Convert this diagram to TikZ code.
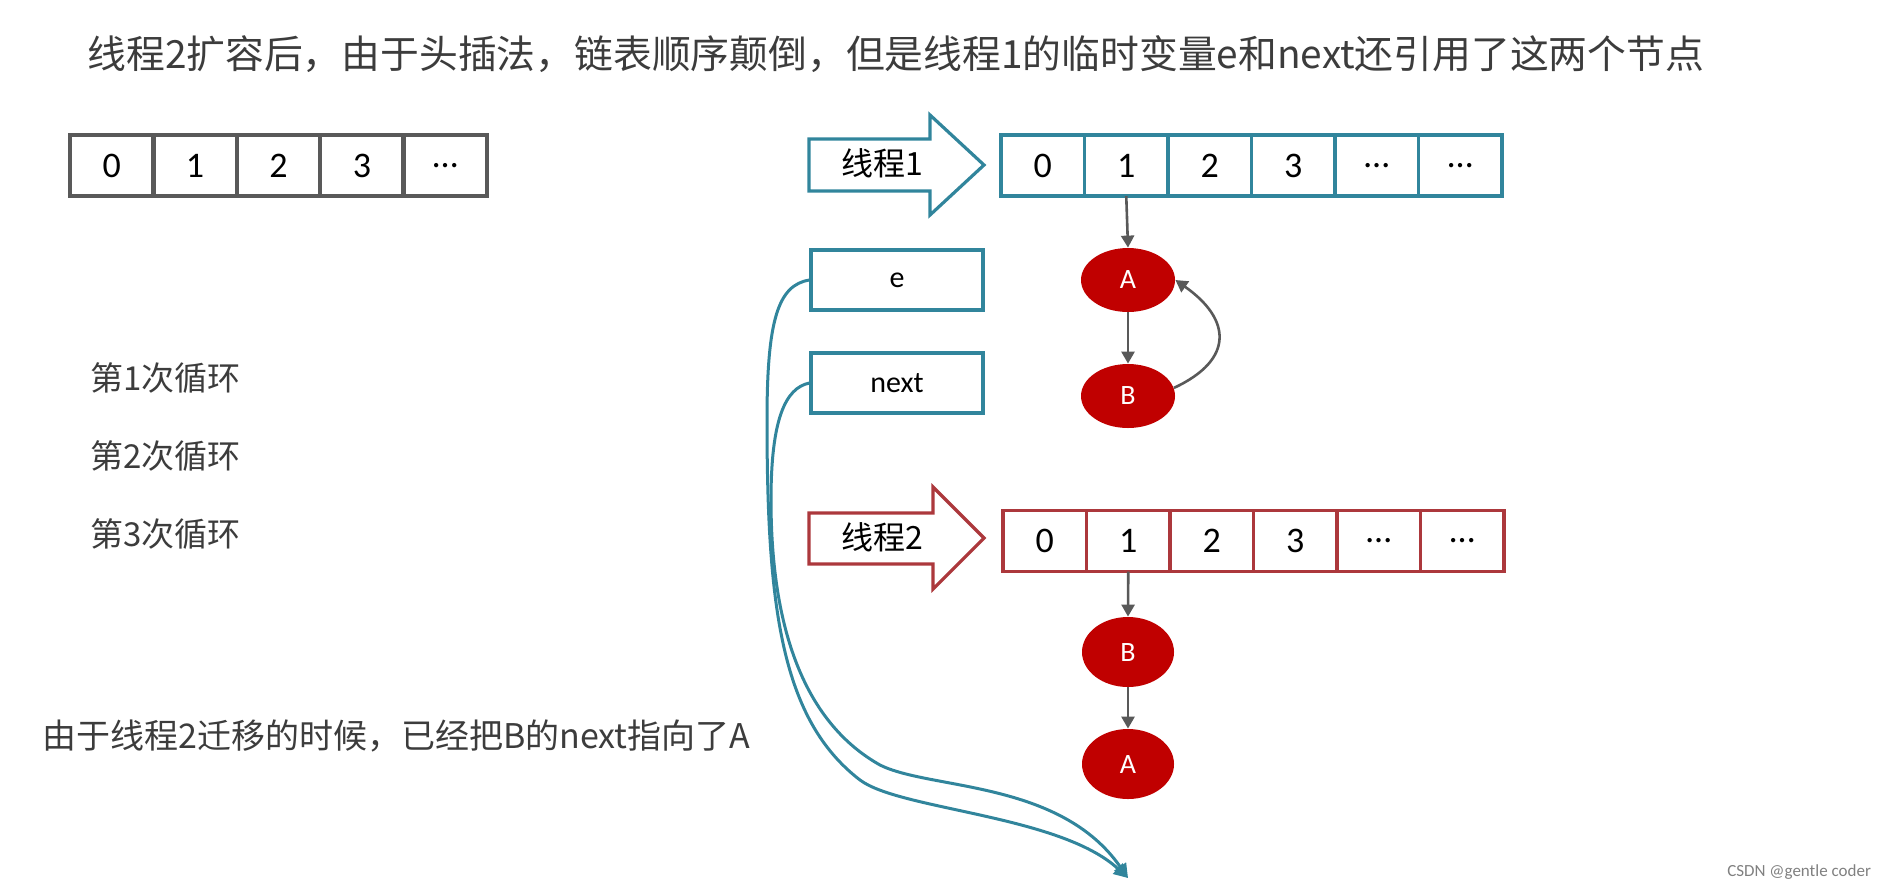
\documentclass[tikz,border=0pt]{standalone}
\usepackage{fontspec}
\setmainfont{Carlito}
\newfontfamily\cjk{Noto Sans CJK SC}
\usetikzlibrary{arrows.meta,shapes.geometric}
\definecolor{tealline}{RGB}{49,133,156}
\definecolor{redline}{RGB}{172,56,60}
\definecolor{nodered}{RGB}{192,0,0}
\definecolor{ptrgray}{RGB}{89,89,89}
\definecolor{textgray}{RGB}{60,60,60}
\tikzset{
    cell/.style={
        draw,
        line width=1.8pt,
        minimum width=41.75pt,
        minimum height=30.5pt,
        inner sep=0pt,
        outer sep=0pt,
        font=\fontsize{18}{18}\selectfont
    },
    varbox/.style={
        draw=tealline,
        line width=1.6pt,
        minimum width=86pt,
        minimum height=30pt,
        font=\fontsize{15}{15}\selectfont
    },
    entry/.style={
        ellipse,
        fill=nodered,
        text=white,
        minimum width=47pt,
        minimum height=32pt,
        inner sep=0pt,
        font=\fontsize{14}{14}\selectfont
    },
    label/.style={
        anchor=west,
        inner sep=0pt,
        text=textgray,
        font=\cjk\fontsize{16.5}{16.5}\selectfont
    },
    ptr/.style={-{Triangle[length=6pt,width=6.5pt]}, draw=ptrgray, line width=1.3pt},
    ref/.style={-{Triangle[length=7pt,width=7pt]}, draw=tealline, line width=1.5pt}
}

\begin{document}
\begin{tikzpicture}[x=0.5pt,y=-0.5pt]
    \useasboundingbox (0,0) rectangle (1893,891);

    % title
    \node[label, font=\cjk\fontsize{19.4}{19.4}\selectfont] (title) at (87,54)
        {线程2扩容后，由于头插法，链表顺序颠倒，但是线程1的临时变量e和next还引用了这两个节点};

    % original table
    \foreach \v [count=\i from 0] in {0,1,2,3,…}
        \node[cell, draw=ptrgray, line width=2.2pt] (old\i) at ({70+41.7+83.4*\i},165.5) {\v};

    % thread 1
    \draw[tealline, line width=1.6pt]
        (809,139) -- (930,139) -- (930,115) -- (984,165) -- (930,215) -- (930,191) -- (809,191) -- cycle;
    \node[font=\cjk\fontsize{16}{16}\selectfont] (tone) at (882,163) {线程1};
    \foreach \v [count=\i from 0] in {0,1,2,3,…,…}
        \node[cell, draw=tealline] (one\i) at ({1001+41.75+83.5*\i},165.5) {\v};

    \node[varbox] (e) at (897,280) {e};
    \node[varbox] (next) at (897,383) {next};

    \node[entry] (oneA) at (1128,280) {A};
    \node[entry] (oneB) at (1128,396) {B};
    \draw[ptr] (one1.south) -- (oneA.north);
    \draw[ptr] (oneA.south) -- (oneB.north);
    \draw[ptr] (oneB.10) to[out=25,in=-35,looseness=1.6] (oneA.east);

    % loops
    \node[label] (loopone) at (90,378) {第1次循环};
    \node[label] (looptwo) at (90,456) {第2次循环};
    \node[label] (loopthree) at (90,534) {第3次循环};

    % thread 2
    \draw[redline, line width=1.6pt]
        (809,513) -- (933,513) -- (933,487) -- (984,538) -- (933,589) -- (933,564) -- (809,564) -- cycle;
    \node[font=\cjk\fontsize{16}{16}\selectfont] (ttwo) at (882,537) {线程2};
    \foreach \v [count=\i from 0] in {0,1,2,3,…,…}
        \node[cell, draw=redline] (two\i) at ({1003+41.75+83.5*\i},541) {\v};

    \node[entry, minimum height=35pt, minimum width=46pt] (twoB) at (1128,652) {B};
    \node[entry, minimum height=35pt, minimum width=46pt] (twoA) at (1128,764) {A};
    \draw[ptr] (two1.south) -- (twoB.north);
    \draw[ptr] (twoB.south) -- (twoA.north);

    \node[label, font=\cjk\fontsize{17}{17}\selectfont] (note) at (42,736) {由于线程2迁移的时候，已经把B的next指向了A};

    % references held by thread 1
    \coordinate (target) at (1128,878);
    \draw[ref] (e.west) .. controls (778,285) and (767,320) .. (767,420)
        .. controls (767,610) and (782,720) .. (860,780)
        .. controls (900,810) and (1060,815) .. (target);
    \draw[ref] (next.west) .. controls (785,388) and (771,420) .. (771,500)
        .. controls (771,620) and (800,720) .. (880,765)
        .. controls (930,790) and (1060,780) .. (target);

    \node[text=gray, font=\fontsize{8.5}{8.5}\selectfont, anchor=east] (mark) at (1878,872) {CSDN @gentle coder};
\end{tikzpicture}
\end{document}
